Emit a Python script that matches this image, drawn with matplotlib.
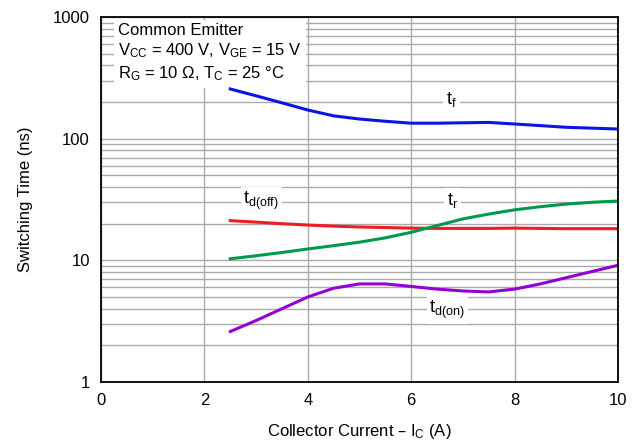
import matplotlib.pyplot as plt

plt.rcParams['font.family'] = ['Liberation Sans Narrow', 'Liberation Sans', 'DejaVu Sans']

# Collector current (A)
ic = [2.5, 3.0, 3.5, 4.0, 4.5, 5.0, 5.5, 6.0, 6.5, 7.0, 7.5, 8.0, 8.5, 9.0, 9.5, 10.0]

# Switching times (ns)
t_f = [256, 225, 197, 172, 154, 145, 139, 134, 134, 135, 136, 132, 128, 124, 122, 120]
t_doff = [21.2, 20.6, 20.0, 19.5, 19.1, 18.8, 18.6, 18.4, 18.3, 18.3, 18.3, 18.4, 18.3, 18.2, 18.2, 18.2]
t_r = [10.3, 10.9, 11.6, 12.4, 13.2, 14.1, 15.3, 17.0, 19.3, 21.9, 24.0, 26.0, 27.6, 29.0, 30.0, 30.7]
t_don = [2.6, 3.2, 4.0, 5.0, 5.9, 6.4, 6.4, 6.1, 5.8, 5.6, 5.5, 5.8, 6.4, 7.2, 8.1, 9.1]

fig = plt.figure(figsize=(6.41, 4.47), dpi=100)
ax = fig.add_axes([0.1576, 0.1454, 0.8064, 0.8166])

ax.set_yscale('log')
ax.set_xlim(0, 10)
ax.set_ylim(1, 1000)
ax.set_xticks([0, 2, 4, 6, 8, 10])
ax.set_yticks([1, 10, 100, 1000])
ax.set_yticklabels(['1', '10', '100', '1000'])
ax.tick_params(which='both', length=0, labelsize=12, pad=8)
ax.grid(True, which='major', axis='x', color='#aaaaaa', lw=1)
ax.grid(True, which='both', axis='y', color='#aaaaaa', lw=1)
for s in ax.spines.values():
    s.set_linewidth(1.3)
    s.set_zorder(5)

ax.plot(ic, t_f, color='#0a14e6', lw=2.2, zorder=3)
ax.plot(ic, t_doff, color='#ee1c24', lw=2.2, zorder=3)
ax.plot(ic, t_r, color='#00994c', lw=2.2, zorder=3)
ax.plot(ic, t_don, color='#9400d3', lw=2.2, zorder=3)

box = dict(facecolor='white', edgecolor='none', pad=2)
ax.text(6.78, 210, r'$\mathregular{t_f}$', fontsize=13, ha='center', va='center', bbox=box, zorder=4)
ax.text(6.8, 31, r'$\mathregular{t_r}$', fontsize=13, ha='center', va='center', bbox=box, zorder=4)
ax.text(3.1, 31, r'$\mathregular{t_{d(off)}}$', fontsize=13, ha='center', va='center', bbox=box, zorder=4)
ax.text(6.7, 3.9, r'$\mathregular{t_{d(on)}}$', fontsize=13, ha='center', va='center', bbox=box, zorder=4)

ax.text(0.33, 900,
        'Common Emitter\n'
        r'$\mathregular{V_{CC}}$ = 400 V, $\mathregular{V_{GE}}$ = 15 V' '\n'
        r'$\mathregular{R_G}$ = 10 Ω, $\mathregular{T_C}$ = 25 °C',
        fontsize=12, ha='left', va='top', linespacing=1.3,
        bbox=dict(facecolor='white', edgecolor='none', pad=3), zorder=2.5)

ax.set_xlabel(r'Collector Current – $\mathregular{I_C}$ (A)', fontsize=12, labelpad=10)
ax.set_ylabel('Switching Time (ns)', fontsize=12, labelpad=14)

fig.savefig('out.png', dpi=100)
